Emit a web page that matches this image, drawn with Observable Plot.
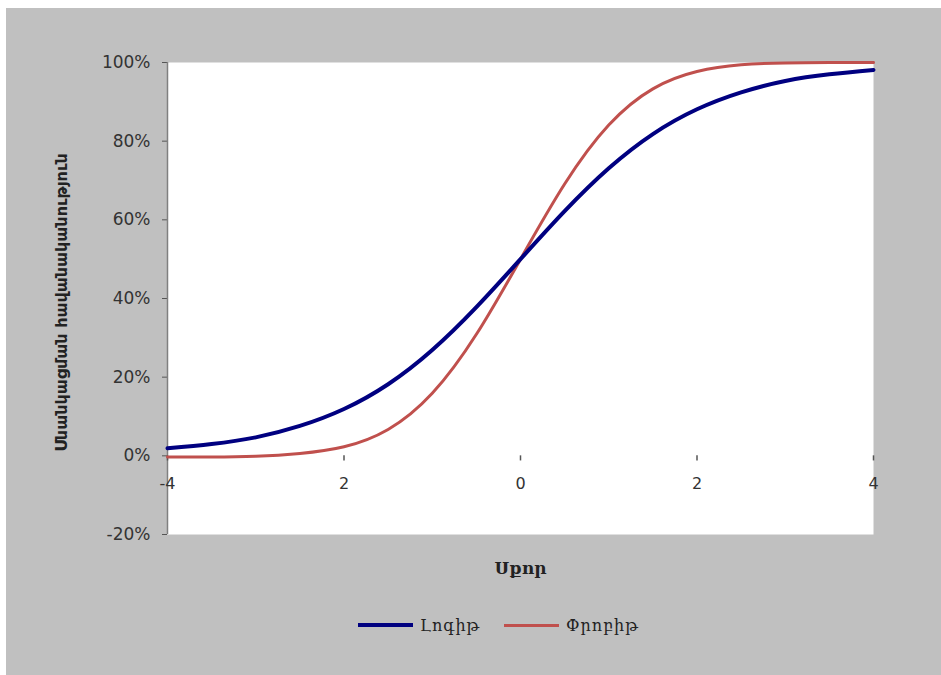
<!DOCTYPE html>
<html>
<head>
<meta charset="utf-8">
<script src="https://cdn.jsdelivr.net/npm/d3@7"></script>
<script src="https://cdn.jsdelivr.net/npm/@observablehq/plot@0.6"></script>
<style>
  html, body { margin: 0; padding: 0; background: #ffffff; }
  #card { position: absolute; left: 6px; top: 8px; width: 935px; height: 667px; background: #c0c0c0; }
  #card svg { display: block; }
  #legend { position: absolute; left: 0; top: 602px; width: 935px; height: 30px;
    font-family: "DejaVu Serif", serif; font-size: 16px; color: #222; }
  .item { position: absolute; top: 0; display: flex; align-items: center; height: 30px; }
  .swatch { display: inline-block; margin-right: 7px; }
</style>
</head>
<body>
<div id="card"><div id="legend"></div></div>
<script>
// ---- data ----
const xValues = [-4, -3.5, -3, -2.5, -2, -1.5, -1, -0.5, 0, 0.5, 1, 1.5, 2, 2.5, 3, 3.5, 4];
const logitValues  = [0.019, 0.03, 0.047, 0.076, 0.119, 0.182, 0.269, 0.378, 0.50, 0.622, 0.731, 0.818, 0.881, 0.924, 0.953, 0.97, 0.981];
const probitValues = [-0.003, -0.003, -0.001, 0.006, 0.023, 0.067, 0.159, 0.309, 0.50, 0.691, 0.841, 0.933, 0.977, 0.994, 0.999, 1.0, 1.0];
const seriesNames = ["Լոգիթ", "Փրոբիթ"];
const seriesColors = ["#000080", "#c0504d"];
const seriesWidths = [4, 3];
const yTicks = [-0.2, 0, 0.2, 0.4, 0.6, 0.8, 1.0];
const xTicks = [-4, -2, 0, 2, 4];
const xTickLabels = ["-4", "2", "0", "2", "4"];
const xTitle = "Սքոր";
const yTitle = "Սնանկացման հավանականություն";

const logit = xValues.map((x, i) => ({x, y: logitValues[i]}));
const probit = xValues.map((x, i) => ({x, y: probitValues[i]}));

const chart = Plot.plot({
  width: 935,
  height: 590,
  marginLeft: 161,
  marginRight: 68,
  marginTop: 54,
  marginBottom: 64,
  style: { background: "transparent", fontFamily: "DejaVu Sans, sans-serif", overflow: "visible" },
  x: { domain: [-4, 4] },
  y: { domain: [-0.2, 1.0] },
  marks: [
    Plot.frame({ fill: "white", stroke: "none" }),
    Plot.axisY({ ticks: yTicks, tickFormat: d => Math.round(d * 100) + "%", tickSize: 5, tickPadding: 12,
      fontSize: 17, stroke: "#555", fill: "#333", label: null, style: "letter-spacing:1.5px" }),
    Plot.axisX({ ticks: [], label: null, tickSize: 0 }),
    Plot.ruleX([-4], { stroke: "#808080", strokeWidth: 1.5 }),
    Plot.ruleX(xTicks, { x: d => d, y1: 0, y2: -0.013, stroke: "#555", strokeWidth: 1.5 }),
    Plot.text(xTicks, { x: d => d, y: 0, text: (d, i) => xTickLabels[i], dy: 28, fontSize: 16, fill: "#333" }),
    Plot.line(probit, { x: "x", y: "y", stroke: seriesColors[1], strokeWidth: seriesWidths[1], curve: "natural" }),
    Plot.line(logit, { x: "x", y: "y", stroke: seriesColors[0], strokeWidth: seriesWidths[0], curve: "natural" }),
    Plot.text([yTitle], { frameAnchor: "left", textAnchor: "middle", rotate: -90, dx: -106, dy: 4,
      fontSize: 16, fontWeight: "bold", fill: "#222", style: "letter-spacing:2.3px" }),
    Plot.text([xTitle], { frameAnchor: "bottom", dy: 39, fontSize: 17, fontWeight: "bold",
      fontFamily: "DejaVu Serif, serif", fill: "#222", style: "letter-spacing:1.5px" })
  ]
});
document.getElementById("card").insertBefore(chart, document.getElementById("legend"));

const legend = document.getElementById("legend");
const lefts = [352, 498];
seriesNames.forEach((name, i) => {
  const item = document.createElement("div");
  item.className = "item";
  item.style.left = lefts[i] + "px";
  const sw = document.createElement("span");
  sw.className = "swatch";
  sw.style.width = "55px";
  sw.style.height = seriesWidths[i] + "px";
  sw.style.background = seriesColors[i];
  item.appendChild(sw);
  const t = document.createElement("span");
  t.textContent = name;
  t.style.letterSpacing = "1px";
  item.appendChild(t);
  legend.appendChild(item);
});
</script>
</body>
</html>
